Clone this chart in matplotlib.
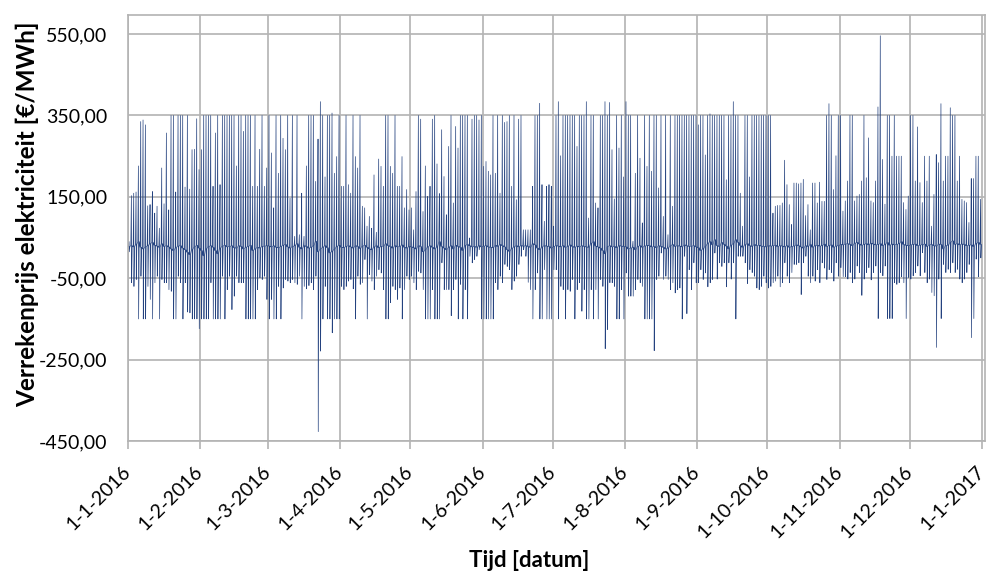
import matplotlib.pyplot as plt
import matplotlib.ticker as mticker
import matplotlib.transforms as mtransforms
import numpy as np
import pandas as pd

plt.rcParams['font.family'] = ['Lato', 'DejaVu Sans']

# hoogste en laagste verrekenprijs per dag [€/MWh], 1-1-2016 t/m 31-12-2016
day_high = [
    40, 153, 159, 162, 226, 335, 339, 327, 128, 131, 163, 110, 127, 73, 221, 133, 307, 118, 350, 350, 162,
    350, 350, 350, 174, 350, 169, 266, 267, 342, 217, 266, 350, 350, 350, 350, 176, 307, 350, 180, 350,
    350, 350, 350, 350, 350, 226, 350, 350, 311, 350, 350, 350, 176, 350, 176, 267, 350, 176, 221, 350,
    258, 123, 350, 208, 350, 294, 266, 350, 147, 350, 53, 350, 57, 159, 53, 226, 350, 350, 350, 188,
    292, 384, 350, 199, 350, 350, 356, 208, 249, 350, 176, 176, 350, 180, 159, 350, 249, 221, 350, 127,
    123, 78, 102, 73, 204, 63, 243, 225, 176, 350, 350, 225, 208, 350, 176, 176, 249, 123, 168, 118, 123,
    69, 163, 350, 341, 114, 226, 151, 176, 341, 350, 231, 158, 315, 200, 106, 274, 350, 135, 323, 270,
    350, 350, 350, 350, 49, 341, 350, 350, 339, 350, 225, 237, 213, 204, 350, 208, 350, 159, 350, 333,
    335, 350, 176, 350, 143, 341, 350, 69, 69, 69, 69, 176, 350, 350, 380, 180, 90, 176, 180, 176, 78,
    350, 384, 251, 350, 350, 350, 350, 350, 350, 274, 350, 350, 350, 384, 98, 350, 350, 135, 123, 350,
    350, 384, 350, 382, 266, 145, 350, 270, 350, 199, 384, 350, 350, 41, 208, 350, 245, 86, 350, 225,
    350, 213, 350, 350, 172, 350, 102, 350, 57, 350, 127, 350, 350, 350, 350, 350, 350, 350, 350, 350, 350,
    327, 350, 350, 253, 350, 354, 350, 350, 350, 350, 350, 350, 192, 350, 350, 384, 350, 350, 159, 78,
    350, 350, 199, 350, 350, 350, 350, 350, 350, 350, 350, 350, 110, 127, 129, 129, 135, 240, 180, 131,
    82, 184, 184, 182, 184, 193, 104, 131, 69, 184, 184, 135, 186, 139, 139, 350, 379, 350, 168, 251, 350,
    350, 115, 140, 189, 350, 350, 140, 152, 156, 189, 350, 197, 295, 140, 136, 189, 371, 546, 242, 132,
    350, 350, 250, 350, 250, 250, 250, 136, 119, 152, 350, 350, 189, 322, 185, 136, 250, 189, 250, 78,
    156, 254, 234, 379, 189, 250, 250, 369, 350, 350, 189, 250, 144, 140, 136, 87, 195, 195, 250, 250, 144,
]
day_low = [
    15, -61, -70, -53, -150, -45, -150, -150, -70, -102, -150, -61, -45, -150, -53, -61, -61, -78, -82, -150, -150,
    -45, -61, -150, -61, -133, -135, -150, -150, -150, -174, -150, -150, -150, -150, -61, -150, -150, -150, -150, -45,
    -150, -78, -45, -127, -94, -45, -61, -61, -61, -150, -150, -150, -150, -150, -78, -49, -53, -45, -102, -150,
    -102, -150, -150, -70, -150, -74, -53, -57, -61, -53, -61, -65, -45, -150, -70, -76, -68, -61, -78, -45,
    -427, -229, -150, -70, -150, -150, -184, -150, -150, -150, -70, -78, -70, -57, -53, -76, -150, -45, -65, -61,
    -4, -150, -41, -57, -78, -45, -29, -37, -78, -150, -150, -110, -70, -78, -102, -74, -150, -78, -45, -53, -45,
    -61, -78, -33, -37, -78, -150, -150, -150, -78, -150, -150, -150, -12, -78, -78, -78, -142, -78, -53, -150,
    -65, -150, -78, -150, 4, -12, -4, 4, 20, -150, -150, -150, -150, -150, -150, -61, -78, -45, -61, -16,
    -21, -29, -78, -57, -45, -16, 4, 20, 4, -60, -78, -150, -78, -37, -150, -150, -29, -150, -150, -150, -29,
    -29, -150, -70, -78, -150, -78, -82, -53, -150, -78, -61, -131, -78, -150, -150, -78, -150, -78, -150, -53,
    -70, -223, -176, -61, -61, -70, -150, -150, -78, -150, -37, -94, -94, -94, -78, -53, -61, -70, -150, -150,
    -150, -150, -228, -53, -45, 12, -53, -45, -53, -78, -61, -86, -78, -74, -150, 4, -137, -29, -78, -12, -61,
    -61, -29, -53, -37, -71, -61, -53, 12, -52, -12, -21, -12, -71, -12, -52, -12, -150, 4, 4, 4,
    -12, -63, -29, -36, -45, -74, -78, -70, -45, -61, -74, -70, -61, -57, -45, -71, -61, -12, -45, -61,
    -36, -16, -16, -12, -90, -12, 4, -45, -61, -45, -57, -29, -61, -12, -25, -53, -29, -36, -57, -12, -45,
    -24, -46, -46, -52, -36, -61, -52, -20, -36, -92, -52, -36, -24, -54, -36, -20, -149, -36, -44, -20,
    -149, -149, -149, -61, -65, -61, -46, -61, -149, -48, -52, -44, -36, -20, -44, 13, -36, -61, -52, -85,
    -93, -220, -52, -149, -16, -36, -28, -36, -12, -36, -28, -52, -61, -52, -36, -16, -196, -149, -3, -46, 0,
]
# daggemiddelde, per maand een regel
day_base = [
    28, 30, 27, 33, 40, 26, 22, 27, 30, 35, 38, 31, 29, 26, 35, 28, 30, 27, 22, 18, 25, 29, 30, 24, 20, 14, 8, 20, 27, 31, 24,
    18, 5, 22, 28, 30, 26, 18, 10, 24, 29, 31, 27, 28, 30, 25, 24, 30, 28, 22, 26, 28, 31, 18, 22, 26, 24, 28, 29, 30,
    29, 27, 30, 26, 25, 28, 31, 33, 27, 24, 28, 30, 35, 26, 22, 30, 28, 24, 26, 30, 41, 15, 22, 26, 30, 25, 12, 16, 22, 28, 31,
    26, 25, 28, 30, 27, 24, 30, 28, 23, 29, 31, 26, 22, 20, 27, 30, 25, 28, 29, 35, 30, 28, 24, 30, 27, 28, 32, 26, 24, 28,
    27, 25, 22, 30, 28, 15, 20, 27, 30, 26, 22, 27, 40, 28, 24, 20, 26, 30, 22, 31, 28, 26, 18, 30, 33, 30, 27, 28, 26, 30, 27,
    29, 30, 27, 26, 25, 31, 28, 33, 30, 27, 20, 16, 23, 27, 30, 27, 30, 29, 30, 28, 26, 35, 32, 24, 20, 27, 30, 29, 28, 24,
    28, 30, 29, 27, 30, 26, 28, 32, 28, 26, 29, 27, 30, 28, 27, 26, 35, 40, 29, 27, 24, 18, 10, 28, 30, 27, 28, 25, 30, 29, 28,
    27, 22, 24, 26, 20, 28, 30, 26, 29, 31, 30, 27, 28, 25, 30, 28, 26, 22, 24, 30, 33, 28, 30, 29, 27, 32, 30, 28, 29, 30, 27,
    25, 18, 22, 29, 35, 40, 32, 45, 30, 28, 38, 33, 29, 22, 31, 35, 45, 38, 30, 26, 32, 35, 30, 28, 33, 30, 31, 29, 28, 27,
    30, 29, 30, 31, 28, 30, 29, 27, 30, 26, 28, 29, 32, 30, 27, 24, 30, 28, 33, 26, 30, 31, 29, 30, 34, 28, 30, 32, 26, 29, 30,
    33, 32, 34, 35, 33, 30, 36, 38, 34, 31, 33, 35, 32, 36, 34, 32, 33, 35, 30, 33, 38, 31, 34, 32, 33, 35, 40, 33, 31, 30,
    32, 33, 34, 30, 31, 33, 34, 28, 32, 33, 30, 29, 34, 33, 22, 30, 31, 38, 42, 33, 35, 32, 34, 33, 30, 31, 32, 28, 35, 38, 33,
]
y_ticks = [-450, -250, -50, 150, 350, 550]
month_starts = pd.date_range('2016-01-01', '2017-01-01', freq='MS')

# per dag: gemiddelde -> hoogste -> gemiddelde -> laagste -> gemiddelde
steps = np.array([0.2, 0.45, 0.5, 0.55, 0.8])
n_days = len(day_high)
t = (np.arange(n_days)[:, None] + steps[None, :]).ravel()
prijs = np.column_stack([day_base, day_high, day_base, day_low, day_base]).ravel()
tijd = pd.Timestamp('2016-01-01') + pd.to_timedelta(t, unit='D')

fig = plt.figure(figsize=(9.87, 5.71), dpi=100)
ax = fig.add_axes([128 / 987, 130 / 571, 857 / 987, 426 / 571])

ax.plot(tijd, prijs, color='#24427f', linewidth=0.5)

ax.set_xlim(pd.Timestamp('2016-01-01'), pd.Timestamp('2017-01-02 08:00'))
ax.set_ylim(-450, 597)

ax.set_yticks(y_ticks)
ax.yaxis.set_major_formatter(mticker.FuncFormatter(lambda v, p: f'{v:.2f}'.replace('.', ',')))
ax.set_xticks(month_starts)
ax.set_xticklabels([f'{d.day}-{d.month}-{d.year}' for d in month_starts],
                   rotation=45, ha='right', va='center', rotation_mode='anchor')
# datumlabels iets naar links, zodat 1-1-2017 binnen het beeld valt
shift = mtransforms.ScaledTranslation(-3 / 100, 0, fig.dpi_scale_trans)
for lbl in ax.get_xticklabels():
    lbl.set_transform(lbl.get_transform() + shift)

ax.grid(True, color='#b3b3b3', linewidth=1.2)
ax.set_axisbelow(True)
for s in ax.spines.values():
    s.set_color('#b3b3b3')
    s.set_linewidth(1.2)

ax.tick_params(axis='y', length=0, pad=15, labelsize=14)
ax.tick_params(axis='x', length=6, width=1.2, color='#b3b3b3', pad=14, labelsize=14)

ax.set_ylabel('Verrekenprijs elektriciteit [€/MWh]', fontsize=17.5, fontweight='bold')
ax.yaxis.set_label_coords(-0.104, 0.532)
ax.set_xlabel('Tijd [datum]', fontsize=16, fontweight='bold')
ax.xaxis.set_label_coords(0.468, -0.255)

fig.savefig('out.png', dpi=100)
